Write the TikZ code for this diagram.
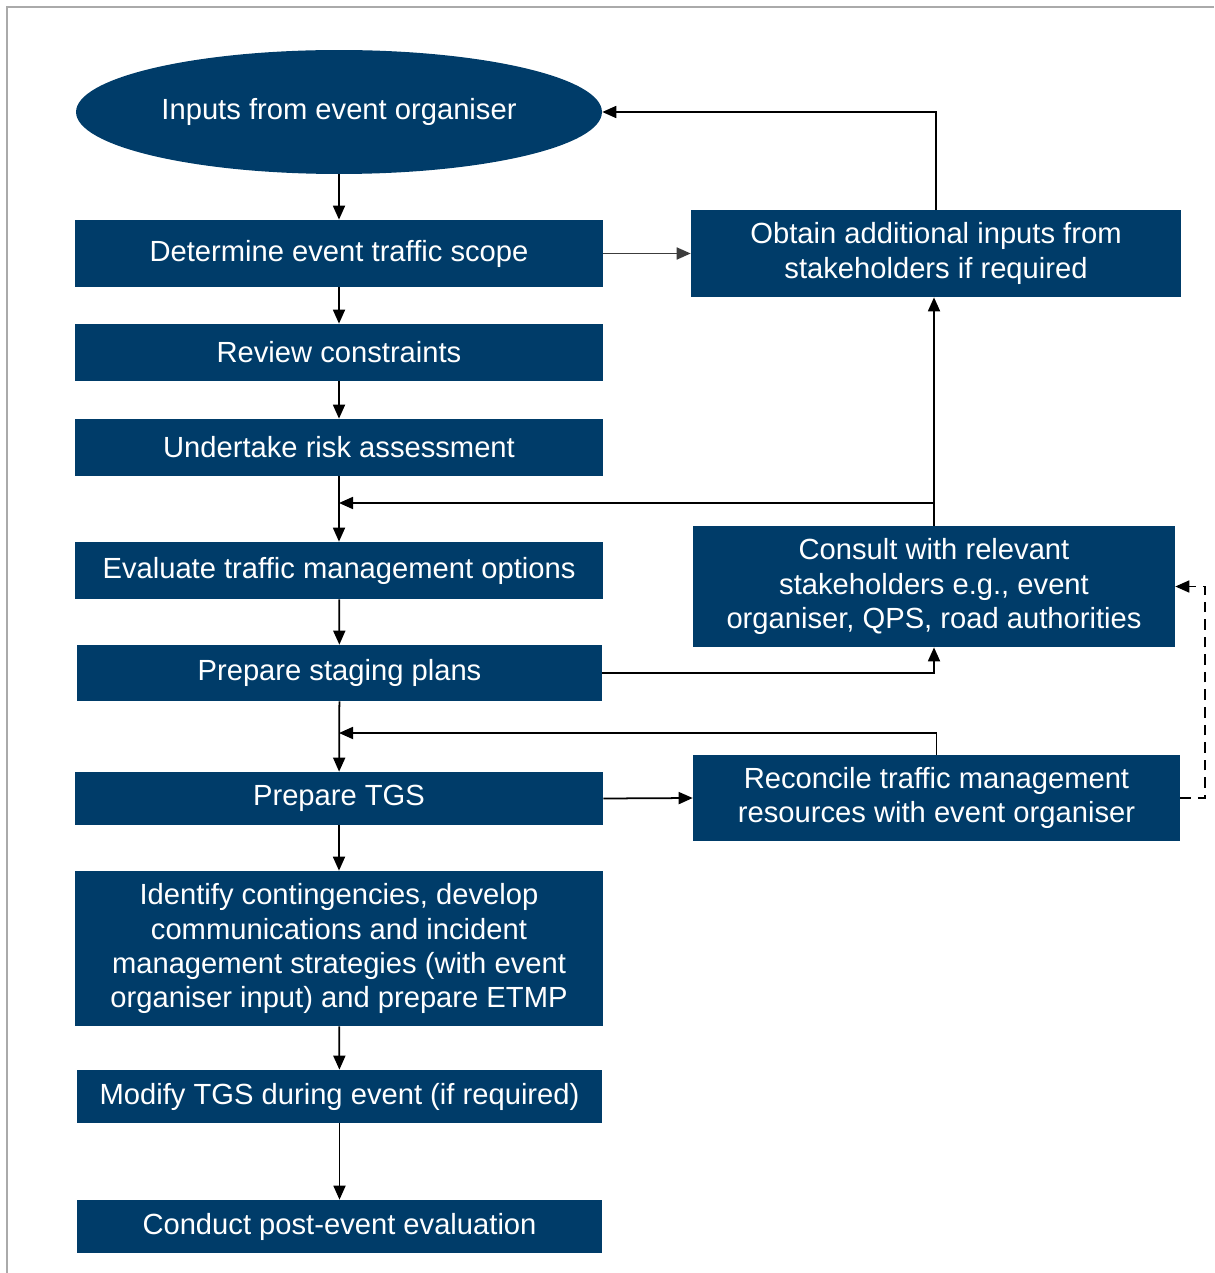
\documentclass[tikz,border=0pt]{standalone}
\usepackage{fontspec}
\setmainfont{Liberation Sans}
\usepackage{xcolor}
\usetikzlibrary{arrows.meta, shapes.geometric}
\definecolor{boxnavy}{RGB}{0, 60, 105}
\definecolor{framegray}{RGB}{170, 170, 170}
\definecolor{arrowgray}{RGB}{60, 60, 60}

\begin{document}
\begin{tikzpicture}[x=0.02cm, y=-0.02cm,
    every node/.style={font=\fontsize{16.6}{19.4}\selectfont},
    stage/.style={rectangle, fill=boxnavy, text=white, inner sep=0pt,
                  minimum width=10.56cm, align=center},
    side/.style={rectangle, fill=boxnavy, text=white, inner sep=0pt,
                 align=center},
    start/.style={ellipse, fill=boxnavy, text=white, inner sep=0pt,
                  minimum width=10.52cm, minimum height=2.48cm},
    arr/.style={-{Triangle[length=0.28cm, width=0.24cm]}, line width=1pt},
    back/.style={-{Triangle[length=0.28cm, width=0.24cm]}, line width=1pt,
                 dashed, dash pattern=on 6pt off 4pt}]

    % Frame
    \useasboundingbox (0,0) rectangle (1214,1273);
    \draw[framegray, line width=1.5pt] (1214,7) -- (7,7) -- (7,1273);

    % Main flow
    \node[start] (inp) at (339,112) {Inputs from event organiser};
    \node[stage, minimum height=1.34cm] (scope) at (339,253.5)
        {Determine event traffic scope};
    \node[stage, minimum height=1.14cm] (rev) at (339,352.5)
        {Review constraints};
    \node[stage, minimum height=1.14cm] (risk) at (339,447.5)
        {Undertake risk assessment};
    \node[stage, minimum height=1.14cm] (eval) at (339,570.5)
        {Evaluate traffic management options};
    \node[stage, minimum width=10.5cm, minimum height=1.12cm] (stag) at (339.5,673)
        {Prepare staging plans};
    \node[stage, minimum height=1.06cm] (tgs) at (339,798.5)
        {Prepare TGS};
    \node[stage, minimum height=3.1cm] (cont) at (339,948.5)
        {Identify contingencies, develop\\communications and incident\\
         management strategies (with event\\organiser input) and prepare ETMP};
    \node[stage, minimum width=10.5cm, minimum height=1.06cm] (mod) at (339.5,1096.5)
        {Modify TGS during event (if required)};
    \node[stage, minimum width=10.5cm, minimum height=1.06cm] (post) at (339.5,1226.5)
        {Conduct post-event evaluation};

    % Side boxes
    \node[side, minimum width=9.8cm, minimum height=1.74cm] (obt) at (936,253.5)
        {Obtain additional inputs from\\stakeholders if required};
    \node[side, minimum width=9.64cm, minimum height=2.42cm] (cons) at (934,586.5)
        {Consult with relevant\\stakeholders e.g., event\\organiser, QPS, road authorities};
    \node[side, minimum width=9.74cm, minimum height=1.72cm] (rec) at (936.5,798)
        {Reconcile traffic management\\resources with event organiser};

    \coordinate (j1) at (339,503);
    \coordinate (j2) at (339,733);

    % Main arrows
    \draw[arr] (inp) -- (scope);
    \draw[arr] (scope) -- (rev);
    \draw[arr] (rev) -- (risk);
    \draw[arr] (risk) -- (eval);
    \draw[arr] (eval) -- (stag);
    \draw[arr] (stag) -- (tgs);
    \draw[arr] (tgs) -- (cont);
    \draw[arr] (cont) -- (mod);
    \draw[arr] (mod) -- (post);

    % Side arrows
    \draw[arr, arrowgray] (scope.east) -- (obt.west);
    \draw[arr] (obt.north) |- (inp.east);
    \draw[arr] (cons.north) -- (cons.north |- obt.south);
    \draw[arr] (cons.north |- j1) -- (j1);
    \draw[arr] (stag.east) -| (cons.south);
    \draw[arr] (rec.north) |- (j2);
    \draw[arr] (tgs.east) -- (rec.west);
    \draw[back] (rec.east) -- ++(25,0) |- (cons.east);
\end{tikzpicture}
\end{document}
